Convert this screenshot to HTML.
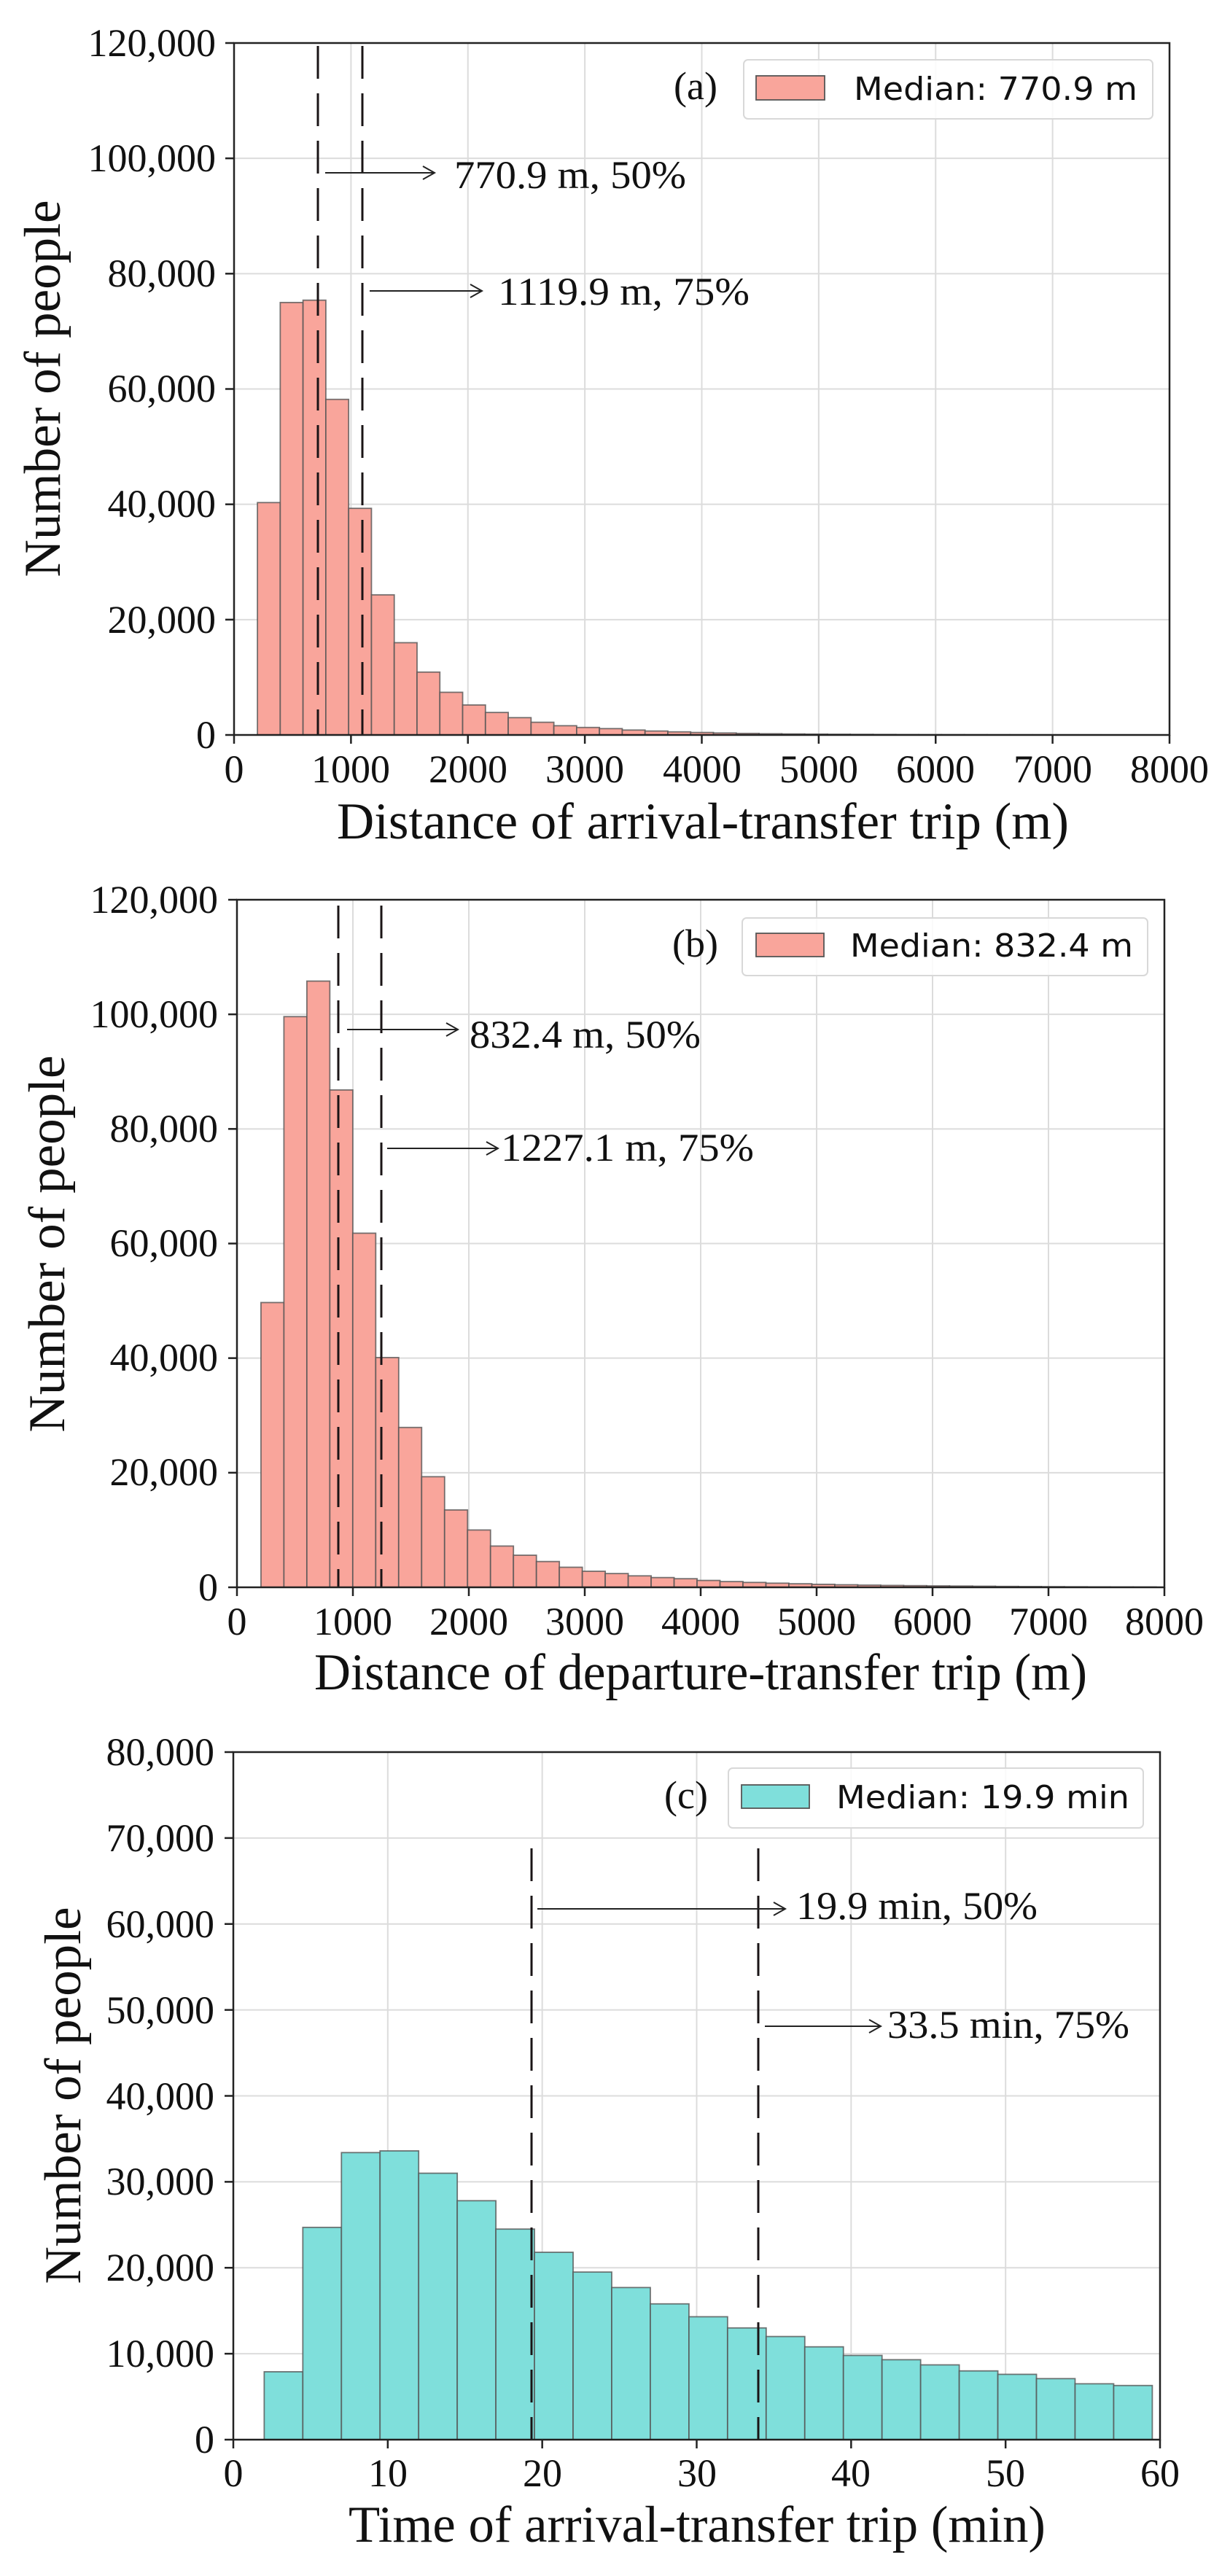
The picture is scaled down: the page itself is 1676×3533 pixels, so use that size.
<!DOCTYPE html>
<html><head><meta charset="utf-8"><style>
html,body{margin:0;padding:0;background:#fff}
svg{display:block}
.t{font-family:"Liberation Serif",serif;fill:#111}
.s{font-family:"DejaVu Sans","Liberation Sans",sans-serif;fill:#111}
</style></head><body>
<svg id="svg" width="1676" height="3533" viewBox="0 0 1676 3533" xmlns="http://www.w3.org/2000/svg">
<g id="plots"></g>
<g class="t" font-size="54" text-anchor="end">
<text x="296" y="77">120,000</text><text x="296" y="235">100,000</text><text x="296" y="393">80,000</text><text x="296" y="551">60,000</text><text x="296" y="709">40,000</text><text x="296" y="868">20,000</text><text x="296" y="1026">0</text>
<text x="299" y="1252">120,000</text><text x="299" y="1409">100,000</text><text x="299" y="1566">80,000</text><text x="299" y="1723">60,000</text><text x="299" y="1880">40,000</text><text x="299" y="2037">20,000</text><text x="299" y="2195">0</text>
<text x="294" y="2421">80,000</text><text x="294" y="2539">70,000</text><text x="294" y="2657">60,000</text><text x="294" y="2775">50,000</text><text x="294" y="2893">40,000</text><text x="294" y="3010">30,000</text><text x="294" y="3128">20,000</text><text x="294" y="3246">10,000</text><text x="294" y="3364">0</text>
</g>
<g class="t" font-size="54" text-anchor="middle">
<text x="321" y="1073">0</text><text x="481" y="1073">1000</text><text x="642" y="1073">2000</text><text x="802" y="1073">3000</text><text x="963" y="1073">4000</text><text x="1123" y="1073">5000</text><text x="1283" y="1073">6000</text><text x="1444" y="1073">7000</text><text x="1604" y="1073">8000</text>
<text x="325" y="2242">0</text><text x="484" y="2242">1000</text><text x="643" y="2242">2000</text><text x="802" y="2242">3000</text><text x="961" y="2242">4000</text><text x="1120" y="2242">5000</text><text x="1279" y="2242">6000</text><text x="1438" y="2242">7000</text><text x="1597" y="2242">8000</text>
<text x="320" y="3410">0</text><text x="532" y="3410">10</text><text x="744" y="3410">20</text><text x="956" y="3410">30</text><text x="1167" y="3410">40</text><text x="1379" y="3410">50</text><text x="1591" y="3410">60</text>
</g>
<g class="t" font-size="71" text-anchor="middle">
<text x="964" y="1150" textLength="1004" lengthAdjust="spacingAndGlyphs">Distance of arrival-transfer trip (m)</text>
<text x="961" y="2317" textLength="1060" lengthAdjust="spacingAndGlyphs">Distance of departure-transfer trip (m)</text>
<text x="956" y="3486" textLength="956" lengthAdjust="spacingAndGlyphs">Time of arrival-transfer trip (min)</text>
<text transform="translate(82,533) rotate(-90)" textLength="517" lengthAdjust="spacingAndGlyphs">Number of people</text>
<text transform="translate(88,1706) rotate(-90)" textLength="517" lengthAdjust="spacingAndGlyphs">Number of people</text>
<text transform="translate(110,2874) rotate(-90)" textLength="517" lengthAdjust="spacingAndGlyphs">Number of people</text>
</g>
<g class="t" font-size="54">
<text x="623" y="258" textLength="318" lengthAdjust="spacingAndGlyphs">770.9 m, 50%</text>
<text x="683" y="418" textLength="345" lengthAdjust="spacingAndGlyphs">1119.9 m, 75%</text>
<text x="644" y="1437" textLength="317" lengthAdjust="spacingAndGlyphs">832.4 m, 50%</text>
<text x="687" y="1592" textLength="347" lengthAdjust="spacingAndGlyphs">1227.1 m, 75%</text>
<text x="1092" y="2632" textLength="331" lengthAdjust="spacingAndGlyphs">19.9 min, 50%</text>
<text x="1217" y="2795" textLength="332" lengthAdjust="spacingAndGlyphs">33.5 min, 75%</text>
<text x="924" y="136">(a)</text>
<text x="922" y="1312">(b)</text>
<text x="911" y="2480">(c)</text>
</g>
<g class="s" font-size="44">
<text x="1171" y="137" textLength="389" lengthAdjust="spacingAndGlyphs">Median: 770.9 m</text>
<text x="1166" y="1312" textLength="388" lengthAdjust="spacingAndGlyphs">Median: 832.4 m</text>
<text x="1147" y="2480" textLength="402" lengthAdjust="spacingAndGlyphs">Median: 19.9 min</text>
</g>
</svg>
<script>
(function(){
var NS="http://www.w3.org/2000/svg",g=document.getElementById("plots");
function el(n,a){var e=document.createElementNS(NS,n);for(var k in a)e.setAttribute(k,a[k]);g.appendChild(e);return e;}
function tail(arr,n){var v=arr[arr.length-1];while(arr.length<n){v*=0.83;arr.push(Math.max(v,0));}return arr;}
var P=[
{L:321,R:1604,T:59,B:1008,xmax:8000,ymax:120000,xs:1000,ys:20000,bx:200,bw:195,col:"#f9a59b",
 v:tail([40300,75000,75400,58200,39300,24300,16000,10900,7400,5200,3900,3000,2200,1600,1300,1100,850,680,540,430,340,270,210],40),
 d:[436,497],dt:63,ar:[[446,596,237],[507,661,399]],lg:[1020,82,1581,163,1037,104,1131,137]},
{L:325,R:1597,T:1234,B:2177,xmax:8000,ymax:120000,xs:1000,ys:20000,bx:207,bw:198,col:"#f9a59b",
 v:tail([49700,99600,105800,86800,61800,40100,27900,19300,13500,10000,7200,5600,4500,3500,2800,2400,2000,1700,1500,1200,1000,850,720,620,520,440,380,330,290,250,220,190],39),
 d:[464,523],dt:1242,ar:[[476,628,1412],[531,683,1575]],lg:[1018,1259,1574,1338,1037,1280,1130,1312]},
{L:320,R:1591,T:2403,B:3346,xmax:60,ymax:80000,xs:10,ys:10000,bx:2,bw:2.5,col:"#7fdfdb",
 v:[7900,24700,33400,33600,31000,27800,24500,21800,19500,17700,15800,14300,13000,12000,10800,9800,9300,8700,8000,7600,7100,6500,6300],
 d:[729,1040],dt:2535,ar:[[737,1077,2618],[1049,1208,2779]],lg:[999,2425,1568,2507,1017,2448,1110,2480]}];
P.forEach(function(p){
 var sx=(p.R-p.L)/p.xmax,sy=(p.B-p.T)/p.ymax;
 for(var x=p.xs;x<p.xmax;x+=p.xs){var X=p.L+x*sx;el("line",{x1:X,x2:X,y1:p.T,y2:p.B,stroke:"#dcdcdc","stroke-width":2});}
 for(var y=p.ys;y<p.ymax;y+=p.ys){var Y=p.B-y*sy;el("line",{x1:p.L,x2:p.R,y1:Y,y2:Y,stroke:"#dcdcdc","stroke-width":2});}
 p.v.forEach(function(v,i){var x0=p.L+(p.bx+i*p.bw)*sx,w=p.bw*sx;if(x0+w>p.R+1)return;var h=v*sy;
  el("rect",{x:x0,y:p.B-h,width:w,height:h,fill:p.col,stroke:"#555","stroke-width":1.8,"stroke-opacity":0.8});});
 p.d.forEach(function(X){el("line",{x1:X,x2:X,y1:p.dt,y2:p.B,stroke:"#1a1416","stroke-width":3,"stroke-dasharray":"45 20"});});
 p.ar.forEach(function(a){el("line",{x1:a[0],x2:a[1],y1:a[2],y2:a[2],stroke:"#222","stroke-width":2});
  el("polyline",{points:(a[1]-16)+","+(a[2]-9)+" "+a[1]+","+a[2]+" "+(a[1]-16)+","+(a[2]+9),fill:"none",stroke:"#222","stroke-width":2});});
 var l=p.lg;
 el("rect",{x:l[0],y:l[1],width:l[2]-l[0],height:l[3]-l[1],rx:6,fill:"#fff","fill-opacity":0.85,stroke:"#d8d8d8","stroke-width":2});
 el("rect",{x:l[4],y:l[5],width:l[6]-l[4],height:l[7]-l[5],fill:p.col,stroke:"#555","stroke-width":1.8});
 el("rect",{x:p.L,y:p.T,width:p.R-p.L,height:p.B-p.T,fill:"none",stroke:"#222","stroke-width":2.5});
 for(var x=0;x<=p.xmax;x+=p.xs){var X=p.L+x*sx;el("line",{x1:X,x2:X,y1:p.B,y2:p.B+12,stroke:"#222","stroke-width":2.5});}
 for(var y=0;y<=p.ymax;y+=p.ys){var Y=p.B-y*sy;el("line",{x1:p.L-12,x2:p.L,y1:Y,y2:Y,stroke:"#222","stroke-width":2.5});}
});
})();
</script>
</body></html>
